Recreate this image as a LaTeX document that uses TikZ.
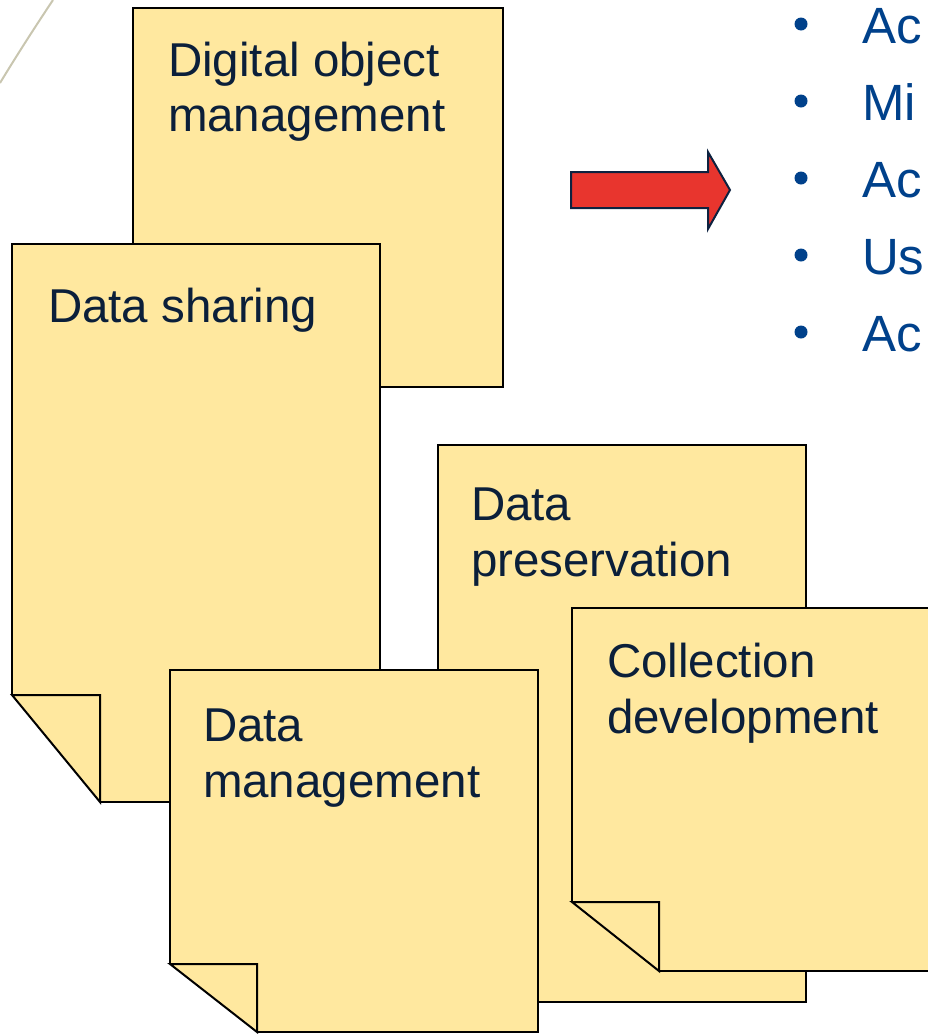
\documentclass[tikz,border=0pt]{standalone}
\usepackage{fontspec}
\setmainfont{Liberation Sans}
\definecolor{notefill}{HTML}{FFE89F}
\definecolor{txt}{HTML}{0B1F3A}
\definecolor{bul}{HTML}{00418B}
\definecolor{arrred}{HTML}{E8352E}
\definecolor{arredge}{HTML}{0D2240}
\definecolor{curvecol}{HTML}{C9C6B0}
\newcommand{\stickynote}[6]{%
  % #1 x1, #2 y1, #3 x2, #4 y2, #5 fold w, #6 fold h
  \fill[notefill] (#1,#2) -- (#3,#2) -- (#3,#4) -- ({#1+#5},#4) -- (#1,{#4-#6}) -- cycle;
  \draw[noteline] (#1,{#4-#6}) -- (#1,#2) -- (#3,#2) -- (#3,#4) -- ({#1+#5},#4);
  \draw[noteline] (#1,{#4-#6}) -- ({#1+#5},{#4-#6}) -- ({#1+#5},#4) -- cycle;
}
\begin{document}
\begin{tikzpicture}[x=1pt,y=-1pt,
  noteline/.style={draw=black, line width=2pt, line join=miter},
  lbl/.style={anchor=base west, inner sep=0pt, outer sep=0pt, text=txt, font=\fontsize{47.5}{57}\selectfont},
  blt/.style={anchor=base west, inner sep=0pt, outer sep=0pt, text=bul, font=\fontsize{51}{60}\selectfont},
  dot/.style={circle, fill=bul, inner sep=0pt, minimum size=13pt}]
\useasboundingbox (0,0) rectangle (928,1034);
% background decoration curve
\draw[curvecol, line width=2pt] (0,83) .. controls (17,55) and (35,27) .. (53,0);
% notes (back to front)
\stickynote{133}{8}{503}{387}{88}{72}
\node[lbl] (dom1) at (168,76) {Digital object};
\node[lbl] (dom2) at (168,131) {management};
\stickynote{12}{244}{380}{802}{88}{107}
\node[lbl] (ds) at (48,322) {Data sharing};
\stickynote{438}{445}{806}{1002}{88}{106}
\node[lbl] (dp1) at (471,520) {Data};
\node[lbl] (dp2) at (471,576) {preservation};
\stickynote{572}{608}{945}{971}{87}{69}
\node[lbl] (cd1) at (607,677) {Collection};
\node[lbl] (cd2) at (607,733) {development};
\stickynote{170}{670}{538}{1032}{87}{68}
\node[lbl] (dm1) at (203,741) {Data};
\node[lbl] (dm2) at (203,797) {management};
% arrow
\draw[fill=arrred, draw=arredge, line width=2pt, line join=miter]
  (571,172) -- (708,172) -- (708,152) -- (730,190) -- (708,229) -- (708,208) -- (571,208) -- cycle;
% bullets
\foreach \i/\t in {0/Ac,1/Mi,2/Ac,3/Us,4/Ac}{
  \node[dot] (b\i) at (801,{24+77*\i}) {};
  \node[blt] (t\i) at (862,{43+77*\i}) {\t};
}
\end{tikzpicture}
\end{document}
